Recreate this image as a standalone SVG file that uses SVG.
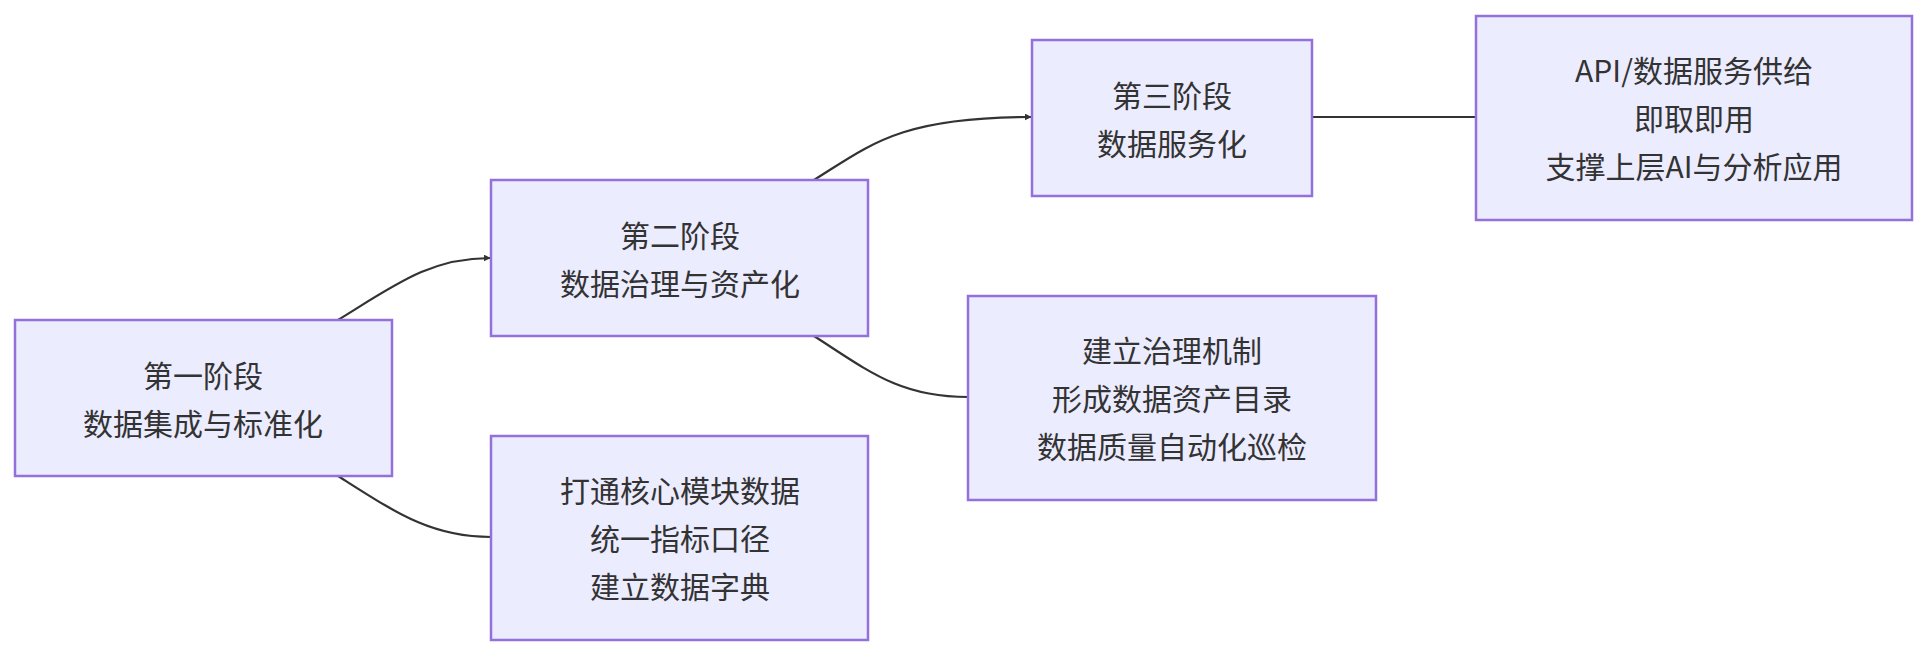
<svg xmlns="http://www.w3.org/2000/svg" width="1927" height="656" viewBox="0 0 1927 656">
<style>
.n rect{fill:#ECECFF;stroke:#9370DB;stroke-width:2.5}
.n text{font-family:"Noto Sans CJK SC",sans-serif;font-size:30px;fill:#333;text-anchor:middle;dominant-baseline:central}
.e path{fill:none;stroke:#333;stroke-width:2.2}
</style>
<defs><marker id="a" viewBox="0 0 10 10" refX="9" refY="5" markerWidth="7" markerHeight="7" orient="auto" markerUnits="userSpaceOnUse" ><path d="M0,0L10,5L0,10z" fill="#333"/></marker></defs>
<rect width="1927" height="656" fill="#fff"/>
<g class="e">
<path d="M338,320 C395,285 430,258 490,258" marker-end="url(#a)" transform="translate(0,0)"/>
<path d="M338,476 C395,512 430,537 491,537"/>
<path d="M814,180 C870,145 900,117 1031,117" marker-end="url(#a)"/>
<path d="M814,336 C870,372 900,397 968,397"/>
<path d="M1312,117 L1476,117"/>
</g>
<g id="n1" class="n"><rect x="15" y="320" width="377" height="156"/><text x="203" y="374">第一阶段</text><text x="203" y="422">数据集成与标准化</text></g>
<g id="n2" class="n"><rect x="491" y="180" width="377" height="156"/><text x="680" y="234">第二阶段</text><text x="680" y="282">数据治理与资产化</text></g>
<g id="n6" class="n"><rect x="491" y="436" width="377" height="204"/><text x="680" y="489">打通核心模块数据</text><text x="680" y="537">统一指标口径</text><text x="680" y="585">建立数据字典</text></g>
<g id="n3" class="n"><rect x="1032" y="40" width="280" height="156"/><text x="1172" y="94">第三阶段</text><text x="1172" y="142">数据服务化</text></g>
<g id="n4" class="n"><rect x="1476" y="16" width="436" height="204"/><text x="1694" y="69">API/数据服务供给</text><text x="1694" y="117">即取即用</text><text x="1694" y="165">支撑上层AI与分析应用</text></g>
<g id="n5" class="n"><rect x="968" y="296" width="408" height="204"/><text x="1172" y="349">建立治理机制</text><text x="1172" y="397">形成数据资产目录</text><text x="1172" y="445">数据质量自动化巡检</text></g>
</svg>
